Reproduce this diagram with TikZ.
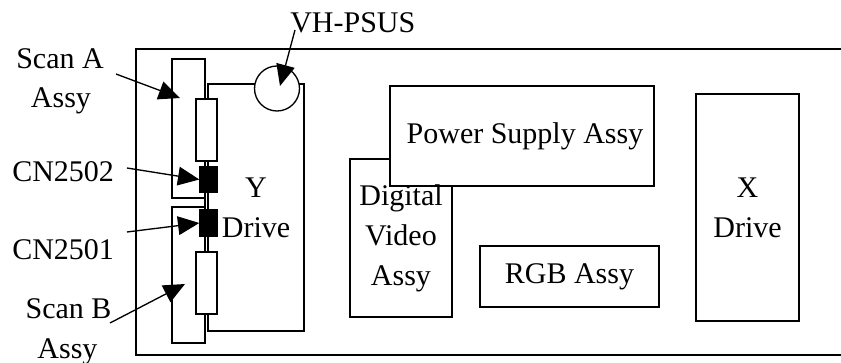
\documentclass[tikz,border=0pt]{standalone}
\usepackage{fontspec}
\setmainfont{Liberation Serif}
\usetikzlibrary{arrows.meta}

\begin{document}
\begin{tikzpicture}[x=0.75pt,y=-0.75pt,
  txt/.style={font=\fontsize{22.5}{30}\selectfont, inner sep=0pt},
  board/.style={draw, line width=1pt, fill=white, inner sep=0pt, align=center,
                font=\fontsize{22.5}{30}\selectfont},
  part/.style={draw, line width=1pt, inner sep=0pt},
  arr/.style={draw, line width=1pt, -{Triangle[length=16pt,width=14pt]}}]

\useasboundingbox (0,0) rectangle (841,363);

% chassis outline (open to the right)
\draw[line width=1.5pt] (841,49) -- (136,49) -- (136,355) -- (841,355);

% scan boards and Y drive
\node[board, minimum width=24.75pt, minimum height=104.25pt] (scanA) at (188.5,128.5) {};
\node[board, minimum width=24.75pt, minimum height=102pt] (scanB) at (188.5,275) {};
\node[board, minimum width=72pt, minimum height=185.25pt] (ydrive) at (256,207.5) {Y\\Drive};

% cable between the scan boards
\draw[line width=1pt] (205,161) -- (205,252);

% flat cables and connectors
\node[part, fill=white, minimum width=15.75pt, minimum height=46.5pt] (resA) at (206.5,130) {};
\node[part, fill=white, minimum width=15.75pt, minimum height=46.5pt] (resB) at (206.5,283) {};
\node[part, fill=black, minimum width=12.75pt, minimum height=18.75pt] (cnA) at (208.5,179.5) {};
\node[part, fill=black, minimum width=12.75pt, minimum height=19.5pt] (cnB) at (208.5,223) {};

% VH-PSUS test point
\node[part, circle, fill=white, minimum size=33.75pt] (psus) at (277,88.5) {};

% other boards
\node[board, minimum width=76.5pt, minimum height=118.5pt] (dva) at (401,238) {};
\node[board, minimum width=198pt, minimum height=75pt] (power) at (522,136) {};
\node[txt, align=center] (dvatext) at (401,238) {Digital\\Video\\Assy};
\node[txt] (powertext) at (525,136) {Power Supply Assy};
\node[board, minimum width=134.25pt, minimum height=45.75pt] (rgb) at (569.5,276.5) {RGB Assy};
\node[board, minimum width=77.25pt, minimum height=170.25pt] (xdrive) at (747.5,207.5) {X\\Drive};

% callout labels
\node[txt, anchor=base] (saA) at (60,69) {Scan A};
\node[txt, anchor=base] (saB) at (61,108) {Assy};
\node[txt, anchor=base west] (cn2502) at (12,182) {CN2502};
\node[txt, anchor=base west] (cn2501) at (12,259) {CN2501};
\node[txt, anchor=base] (sbA) at (68.5,318) {Scan B};
\node[txt, anchor=base] (sbB) at (67.5,358) {Assy};
\node[txt, anchor=base west] (vh) at (290,33) {VH-PSUS};

% callout arrows
\coordinate (saStart) at (116,74);
\coordinate (saTip) at (180,98);
\coordinate (sbStart) at (110,323);
\coordinate (sbTip) at (185,284);
\coordinate (c2Start) at (127,168);
\coordinate (c1Start) at (127,232);
\coordinate (vhStart) at (295,30);
\coordinate (vhTip) at (280,86);

\draw[arr] (saStart) -- (saTip);
\draw[arr] (c2Start) -- (cnA.west);
\draw[arr] (c1Start) -- (cnB.west);
\draw[arr] (sbStart) -- (sbTip);
\draw[arr] (vhStart) -- (vhTip);

\end{tikzpicture}
\end{document}
